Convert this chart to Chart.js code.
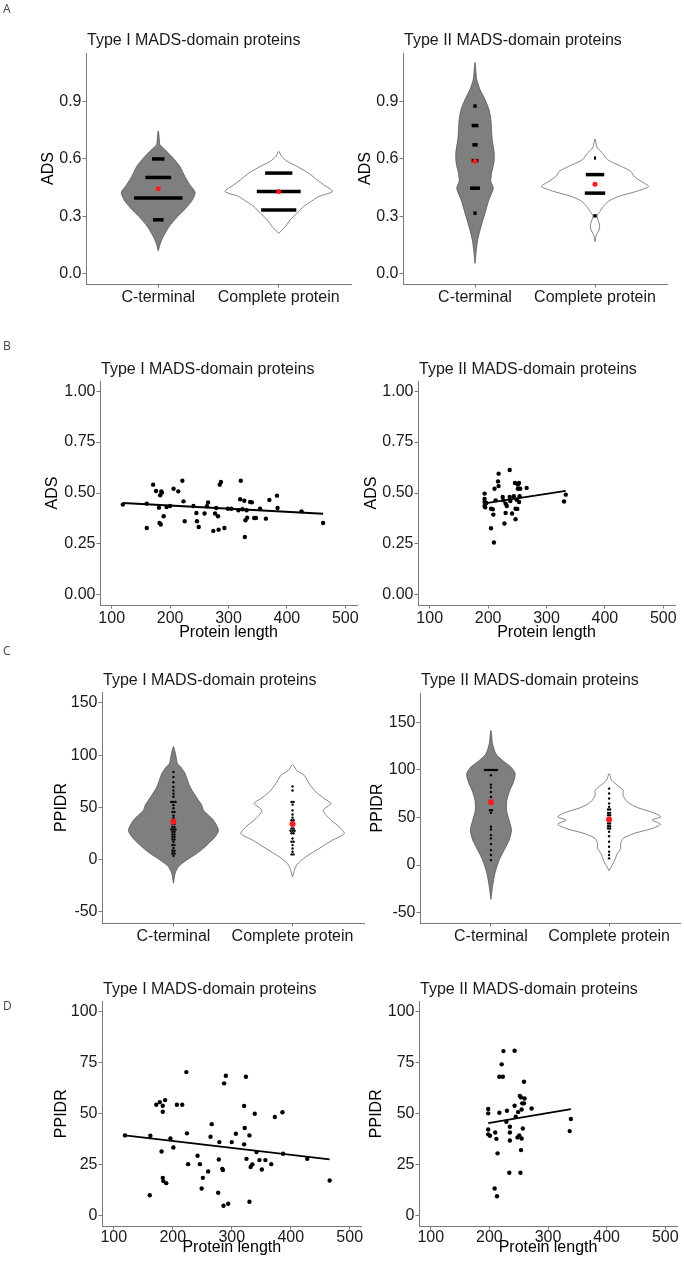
<!DOCTYPE html>
<html>
<head>
<meta charset="utf-8">
<script src="https://cdn.jsdelivr.net/npm/chart.js@4.4.1/dist/chart.umd.min.js"></script>
<style>
  html, body { margin: 0; padding: 0; background: #fff; }
  #page { position: relative; width: 684px; height: 1265px; overflow: hidden; }
  canvas { position: absolute; }
  .title { position: absolute; font-family: 'Liberation Sans', Arial, sans-serif; font-size: 16px; line-height: 20px; color: #1a1a1a; white-space: nowrap; }
  .tag { position: absolute; left: 3px; font-family: 'Open Sans', sans-serif; font-size: 12px; line-height: 14px; color: #444; }
</style>
</head>
<body>
<div id="page"></div>
<script>
// ---- data ----
const categories = ['C-terminal', 'Complete protein'];
const titleTypeI = 'Type I MADS-domain proteins';
const titleTypeII = 'Type II MADS-domain proteins';

const adsTicks = [0, 0.3, 0.6, 0.9];
const adsTickLabels = ['0.0', '0.3', '0.6', '0.9'];
const adsScatterTicks = [0, 0.25, 0.5, 0.75, 1];
const adsScatterTickLabels = ['0.00', '0.25', '0.50', '0.75', '1.00'];
const ppidrViolinTicks = [-50, 0, 50, 100, 150];
const ppidrScatterTicks = [0, 25, 50, 75, 100];
const lengthTicks = [100, 200, 300, 400, 500];

// A: ADS violins (y grid + half width in category units)
const aICtY = [0.119, 0.158, 0.193, 0.246, 0.298, 0.342, 0.386, 0.425, 0.465, 0.509, 0.561, 0.614, 0.649, 0.675, 0.71, 0.746];
const aICtW = [0, 0.017, 0.041, 0.091, 0.160, 0.229, 0.284, 0.306, 0.262, 0.220, 0.179, 0.110, 0.055, 0.014, 0.008, 0];
const aICtBarY = [0.281, 0.395, 0.503, 0.60];
const aICtBarW = [0.044, 0.201, 0.107, 0.052];
const aICtMean = 0.444;
const aIFullY = [0.21, 0.246, 0.281, 0.316, 0.351, 0.386, 0.404, 0.43, 0.465, 0.491, 0.526, 0.561, 0.588, 0.614, 0.64];
const aIFullW = [0, 0.055, 0.096, 0.152, 0.207, 0.289, 0.336, 0.446, 0.372, 0.317, 0.248, 0.152, 0.069, 0.022, 0];
const aIFullBarY = [0.333, 0.43, 0.526];
const aIFullBarW = [0.146, 0.182, 0.113];
const aIFullMean = 0.43;

const aIICtY = [0.053, 0.105, 0.175, 0.246, 0.316, 0.386, 0.447, 0.482, 0.526, 0.579, 0.632, 0.702, 0.746, 0.807, 0.86, 0.912, 0.965, 1.018, 1.105];
const aIICtW = [0, 0.008, 0.022, 0.050, 0.083, 0.116, 0.152, 0.132, 0.138, 0.157, 0.160, 0.143, 0.138, 0.132, 0.116, 0.083, 0.041, 0.014, 0];
const aIICtBarY = [0.316, 0.447, 0.591, 0.674, 0.775, 0.877];
const aIICtBarW = [0.014, 0.041, 0.028, 0.022, 0.028, 0.014];
const aIICtMean = 0.588;
const aIIFullY = [0.167, 0.202, 0.228, 0.254, 0.281, 0.302, 0.325, 0.351, 0.377, 0.403, 0.43, 0.456, 0.482, 0.509, 0.535, 0.561, 0.596, 0.632, 0.658, 0.705];
const aIIFullW = [0, 0.011, 0.033, 0.039, 0.025, 0.017, 0.041, 0.069, 0.110, 0.193, 0.344, 0.446, 0.386, 0.325, 0.298, 0.220, 0.105, 0.061, 0.019, 0];
const aIIFullBarY = [0.302, 0.421, 0.518, 0.605];
const aIIFullBarW = [0.014, 0.085, 0.077, 0.008];
const aIIFullMean = 0.468;

// B: ADS vs protein length
const bTypeIX = [119, 160, 160, 171, 176, 181, 183, 185, 186, 182, 184, 189, 194, 200, 206, 214, 221, 223, 225, 240, 245, 246, 249, 259, 263, 265, 274, 277, 279, 282, 283, 285, 287, 293, 299, 305, 317, 320, 321, 324, 327, 329, 328, 331, 332, 337, 340, 344, 347, 354, 364, 370, 383, 384, 425, 462];
const bTypeIY = [0.443, 0.448, 0.328, 0.541, 0.51, 0.428, 0.489, 0.507, 0.502, 0.353, 0.345, 0.386, 0.431, 0.436, 0.521, 0.508, 0.56, 0.459, 0.361, 0.436, 0.402, 0.361, 0.333, 0.399, 0.435, 0.453, 0.314, 0.399, 0.426, 0.386, 0.32, 0.541, 0.554, 0.328, 0.423, 0.423, 0.415, 0.469, 0.56, 0.42, 0.462, 0.366, 0.284, 0.415, 0.379, 0.456, 0.454, 0.377, 0.377, 0.423, 0.374, 0.466, 0.487, 0.426, 0.41, 0.353];
const bTypeIFitX = [119, 462];
const bTypeIFitY = [0.451, 0.398];
const bTypeIIX = [194, 194, 194, 194, 195, 197, 205, 208, 205, 209, 210, 211, 213, 217, 218, 218, 225, 226, 228, 230, 230, 232, 237, 237, 238, 241, 244, 246, 247, 247, 249, 250, 251, 251, 253, 253, 254, 255, 266, 330, 333];
const bTypeIIY = [0.497, 0.471, 0.456, 0.436, 0.43, 0.451, 0.423, 0.42, 0.327, 0.394, 0.257, 0.521, 0.464, 0.557, 0.534, 0.595, 0.48, 0.464, 0.35, 0.448, 0.402, 0.436, 0.48, 0.613, 0.461, 0.399, 0.484, 0.549, 0.371, 0.423, 0.467, 0.422, 0.541, 0.521, 0.549, 0.456, 0.484, 0.521, 0.525, 0.458, 0.492];
const bTypeIIFitX = [194, 333];
const bTypeIIFitY = [0.449, 0.51];

// C: PPIDR violins
const cICtY = [-22.9, -13.4, -7, -0.6, 5.7, 12.1, 21.7, 28, 37.6, 47.1, 51.9, 56.7, 69.4, 82.2, 88.5, 91.7, 101.3, 108.3];
const cICtW = [0, 0.014, 0.042, 0.112, 0.196, 0.266, 0.350, 0.378, 0.336, 0.252, 0.238, 0.210, 0.140, 0.098, 0.062, 0.034, 0.017, 0];
const cICtDotY = [3.5, 5.7, 8.3, 11, 13.7, 16.6, 19, 21.7, 24, 26.4, 28.7, 31, 34, 37.6, 40, 42, 45.5, 49, 52, 55, 60, 63, 66, 69.4, 74, 79, 83.8];
const cICtDotN = [1, 2, 2, 1, 2, 1, 2, 2, 2, 2, 3, 2, 2, 2, 1, 1, 2, 1, 1, 3, 1, 1, 1, 1, 1, 1, 1];
const cICtMean = 36;
const cIFullY = [-16.6, -5.4, 2.5, 10.5, 18.5, 24.8, 31.2, 39.2, 47.1, 53.5, 58.3, 64.6, 72.6, 80.6, 85.4, 91];
const cIFullW = [0, 0.034, 0.112, 0.224, 0.336, 0.434, 0.392, 0.308, 0.258, 0.322, 0.266, 0.196, 0.140, 0.098, 0.034, 0];
const cIFullDotY = [4.8, 7.3, 10.5, 13.7, 16.9, 20, 25, 27.4, 29.6, 35, 37.6, 40, 43, 47, 52.5, 55, 66, 70];
const cIFullDotN = [2, 1, 1, 1, 2, 1, 2, 3, 2, 2, 2, 1, 1, 1, 1, 2, 1, 1];
const cIFullMean = 34;

const cIICtY = [-36, -22.7, -8.7, 5.2, 15.7, 26.2, 36.7, 47.2, 57.7, 68.2, 78.7, 87.4, 96.2, 103.1, 110.1, 117.1, 127.6, 141.6];
const cIICtW = [0, 0.014, 0.034, 0.070, 0.112, 0.154, 0.174, 0.154, 0.132, 0.135, 0.160, 0.191, 0.205, 0.169, 0.098, 0.042, 0.014, 0];
const cIICtDotY = [5.2, 10.5, 15.7, 22, 28, 31.5, 37.4, 40.2, 54.9, 57.7, 67, 71.7, 76.9, 81.5, 84.6, 94.4, 100];
const cIICtDotN = [1, 1, 1, 1, 1, 1, 1, 1, 1, 2, 1, 1, 1, 1, 1, 1, 7];
const cIICtMean = 66;
const cIIFullY = [-5.9, -1, 5.2, 12.2, 17.5, 22.7, 28, 33.2, 38.5, 43, 47.2, 50.7, 54.9, 60.5, 66.4, 73.4, 78.7, 83.9, 89.2, 96.2];
const cIIFullW = [0, 0.022, 0.048, 0.070, 0.098, 0.098, 0.118, 0.211, 0.365, 0.435, 0.365, 0.435, 0.379, 0.239, 0.154, 0.118, 0.118, 0.070, 0.022, 0];
const cIIFullDotY = [7, 10.5, 14, 19.2, 24.5, 30.4, 35, 38.5, 40.9, 43.7, 48, 52.4, 54.9, 58.4, 61.2, 64.7, 70, 75.2, 80.4];
const cIIFullDotN = [1, 1, 1, 1, 1, 1, 1, 2, 2, 2, 2, 2, 2, 2, 1, 1, 1, 1, 1];
const cIIFullMean = 47.9;

// D: PPIDR vs protein length
const dTypeIX = [119, 161, 162, 172, 178, 181, 183, 183, 187, 183, 184, 189, 196, 201, 207, 216, 223, 224, 226, 242, 246, 249, 251, 260, 266, 264, 277, 278, 279, 284, 285, 286, 287, 290, 294, 300, 307, 321, 322, 321, 324, 325, 330, 330, 332, 335, 339, 342, 347, 357, 351, 367, 373, 387, 386, 428, 466];
const dTypeIY = [39.4, 10.1, 39.2, 54.4, 55.7, 31.5, 53.9, 51, 56.7, 18.6, 17, 16, 37.9, 33.5, 54.4, 54.4, 70.4, 40.4, 25.3, 29.4, 25.3, 13.4, 18.6, 21.7, 44.9, 38.7, 11.3, 27.6, 36.1, 23, 22.4, 4.9, 64.9, 68.6, 5.9, 36.1, 40.2, 35, 43, 53.8, 68.1, 27.9, 39.4, 6.9, 23.9, 25.2, 50, 31.2, 27.3, 27.3, 22.7, 25.3, 48.4, 30.4, 50.7, 27.9, 17.3];
const dTypeIFitX = [119, 466];
const dTypeIFitY = [39.4, 27.6];
const dTypeIIX = [198, 198, 198, 198, 201, 210, 212, 214, 209, 213, 217, 217, 223, 221, 224, 230, 229, 235, 235, 234, 235, 243, 243, 245, 248, 249, 251, 252, 254, 255, 256, 255, 254, 253, 257, 259, 259, 260, 272, 337, 339];
const dTypeIIY = [52.3, 50.2, 42.3, 39.9, 39.2, 40.8, 37.7, 30.6, 13.4, 9.6, 50.5, 68.1, 68.1, 74.2, 80.7, 51.5, 46.1, 43.6, 40.8, 21.1, 36.9, 53.9, 80.9, 48.5, 38.4, 50.8, 39.4, 58.7, 58, 52.1, 55.1, 37.9, 32.2, 21.1, 42.8, 65.7, 55.1, 57.5, 52.6, 41.5, 47.4];
const dTypeIIFitX = [198, 339];
const dTypeIIFitY = [45.4, 52.3];

// ---- styling / helpers ----
Chart.defaults.font.family = "'Liberation Sans', Arial, Helvetica, sans-serif";
Chart.defaults.font.size = 16;
const axisGray = '#7a7a7a';
const violinGray = '#7f7f7f';
const meanRed = '#ff1a1a';
const page = document.getElementById('page');

function violinShape(c, ys, ws, fill, stroke) {
  const pts = ys.map((y, i) => ({ x: c + ws[i], y }));
  for (let i = ys.length - 2; i >= 0; i--) pts.push({ x: c - ws[i], y: ys[i] });
  return { data: pts, showLine: true, fill: 'shape', backgroundColor: fill, borderColor: stroke,
    borderWidth: 0.8, pointRadius: 0, tension: 0.25, order: 3 };
}
function barMarks(c, ys, ws) {
  return ys.map((y, i) => ({ data: [{ x: c - ws[i], y }, { x: c + ws[i], y }], showLine: true,
    borderColor: '#000', borderWidth: 3.5, pointRadius: 0, order: 2 }));
}
function dotMarks(c, ys, ns) {
  const pts = [];
  ys.forEach((y, i) => {
    for (let k = 0; k < ns[i]; k++) pts.push({ x: c + (k - (ns[i] - 1) / 2) * 0.017, y });
  });
  return { data: pts, pointRadius: 1.2, backgroundColor: '#000', borderWidth: 0, order: 2 };
}
function meanMark(c, m, r) {
  return { data: [{ x: c, y: m }], pointRadius: r, backgroundColor: meanRed, borderWidth: 0, order: 1 };
}
function scatterSets(xs, ys, fx, fy) {
  return [
    { data: xs.map((x, i) => ({ x, y: ys[i] })), pointRadius: 2.2, backgroundColor: '#000', borderWidth: 0, order: 2 },
    { data: fx.map((x, i) => ({ x, y: fy[i] })), showLine: true, borderColor: '#000', borderWidth: 1.8, pointRadius: 0, order: 1 }
  ];
}

function axis(spec, size, horizontal) {
  return {
    type: 'linear', min: spec.min, max: spec.max,
    border: { display: true, color: axisGray, width: 1 },
    grid: { display: true, drawOnChartArea: false, drawTicks: true, tickLength: 3.5, color: axisGray, lineWidth: 1 },
    ticks: { color: '#1a1a1a', padding: spec.tickPad !== undefined ? spec.tickPad : (horizontal ? 0 : 1),
      maxRotation: 0, autoSkip: false, callback: (v, i) => spec.labels[i] },
    afterBuildTicks: s => { s.ticks = spec.values.map(v => ({ value: v })); },
    afterFit: s => {
      if (horizontal) { s.height = size; s.paddingLeft = 0; s.paddingRight = 0; }
      else { s.width = size; s.paddingTop = 0; s.paddingBottom = 0; }
    },
    title: spec.title
      ? { display: true, text: spec.title, color: '#000',
          padding: horizontal ? { top: 0, bottom: spec.pad } : { top: spec.pad, bottom: 0 } }
      : { display: false }
  };
}

function panel(box, area, xSpec, ySpec, datasets, title, tag) {
  const cv = document.createElement('canvas');
  cv.width = box.w; cv.height = box.h;
  cv.style.left = box.x + 'px'; cv.style.top = box.y + 'px';
  cv.style.width = box.w + 'px'; cv.style.height = box.h + 'px';
  page.appendChild(cv);
  new Chart(cv, {
    type: 'scatter',
    data: { datasets },
    options: {
      responsive: false, animation: false, events: [],
      layout: { padding: { left: 0, top: area.t - box.y, right: box.x + box.w - area.r, bottom: 0 } },
      plugins: { legend: { display: false }, tooltip: { enabled: false } },
      scales: {
        x: axis(xSpec, box.y + box.h - area.b, true),
        y: axis(ySpec, area.l - box.x, false)
      }
    }
  });
  const t = document.createElement('div');
  t.className = 'title'; t.textContent = title;
  t.style.left = (area.l + 1) + 'px';
  t.style.top = area.titleTop + 'px';
  page.appendChild(t);
  if (tag) {
    const g = document.createElement('div');
    g.className = 'tag'; g.textContent = tag.text; g.style.top = tag.top + 'px';
    page.appendChild(g);
  }
}

const catX = { min: 0.4, max: 2.6, values: [1, 2], labels: categories };
const lenX = (pad, tickPad) => ({ min: 80, max: 520, values: lengthTicks, labels: lengthTicks.map(String),
  title: 'Protein length', pad, tickPad });

// A
panel({ x: 0, y: 0, w: 360, h: 310 }, { l: 86, r: 351, t: 53, b: 284, titleTop: 30 }, catX,
  { min: -0.055, max: 1.155, values: adsTicks, labels: adsTickLabels, title: 'ADS', pad: 39.4 },
  [violinShape(1, aICtY, aICtW, violinGray, '#555'), ...barMarks(1, aICtBarY, aICtBarW), meanMark(1, aICtMean, 2.5),
   violinShape(2, aIFullY, aIFullW, '#fff', '#666'), ...barMarks(2, aIFullBarY, aIFullBarW), meanMark(2, aIFullMean, 2.5)],
  titleTypeI, { text: 'A', top: 2 });
panel({ x: 342, y: 0, w: 342, h: 310 }, { l: 403, r: 667, t: 53, b: 284, titleTop: 30 }, catX,
  { min: -0.055, max: 1.155, values: adsTicks, labels: adsTickLabels, title: 'ADS', pad: 14.4 },
  [violinShape(1, aIICtY, aIICtW, violinGray, '#555'), ...barMarks(1, aIICtBarY, aIICtBarW), meanMark(1, aIICtMean, 2.5),
   violinShape(2, aIIFullY, aIIFullW, '#fff', '#666'), ...barMarks(2, aIIFullBarY, aIIFullBarW), meanMark(2, aIIFullMean, 2.5)],
  titleTypeII, null);

// B
panel({ x: 0, y: 320, w: 366, h: 324 }, { l: 100, r: 357, t: 381, b: 605, titleTop: 359 }, lenX(1.9, 0),
  { min: -0.05, max: 1.05, values: adsScatterTicks, labels: adsScatterTickLabels, title: 'ADS', pad: 43.4 },
  scatterSets(bTypeIX, bTypeIY, bTypeIFitX, bTypeIFitY), titleTypeI, { text: 'B', top: 339 });
panel({ x: 342, y: 320, w: 342, h: 324 }, { l: 418, r: 675, t: 381, b: 605, titleTop: 359 }, lenX(1.9, 0),
  { min: -0.05, max: 1.05, values: adsScatterTicks, labels: adsScatterTickLabels, title: 'ADS', pad: 20.4 },
  scatterSets(bTypeIIX, bTypeIIY, bTypeIIFitX, bTypeIIFitY), titleTypeII, null);

// C
panel({ x: 0, y: 640, w: 370, h: 310 }, { l: 102, r: 364, t: 692, b: 923, titleTop: 670 }, catX,
  { min: -61, max: 160.5, values: ppidrViolinTicks, labels: ppidrViolinTicks.map(String), title: 'PPIDR', pad: 51.9 },
  [violinShape(1, cICtY, cICtW, violinGray, '#555'), dotMarks(1, cICtDotY, cICtDotN), meanMark(1, cICtMean, 3),
   violinShape(2, cIFullY, cIFullW, '#fff', '#666'), dotMarks(2, cIFullDotY, cIFullDotN), meanMark(2, cIFullMean, 3)],
  titleTypeI, { text: 'C', top: 644 });
panel({ x: 342, y: 640, w: 342, h: 310 }, { l: 420, r: 681, t: 693, b: 923, titleTop: 670 }, catX,
  { min: -61, max: 181, values: ppidrViolinTicks, labels: ppidrViolinTicks.map(String), title: 'PPIDR', pad: 25.9 },
  [violinShape(1, cIICtY, cIICtW, violinGray, '#555'), dotMarks(1, cIICtDotY, cIICtDotN), meanMark(1, cIICtMean, 3),
   violinShape(2, cIIFullY, cIIFullW, '#fff', '#666'), dotMarks(2, cIIFullDotY, cIIFullDotN), meanMark(2, cIIFullMean, 3)],
  titleTypeII, null);

// D
panel({ x: 0, y: 950, w: 366, h: 315 }, { l: 102, r: 361.5, t: 1001.5, b: 1226, titleTop: 979 }, lenX(7.6, -2),
  { min: -5, max: 105, values: ppidrScatterTicks, labels: ppidrScatterTicks.map(String), title: 'PPIDR', pad: 51.9 },
  scatterSets(dTypeIX, dTypeIY, dTypeIFitX, dTypeIFitY), titleTypeI, { text: 'D', top: 999 });
panel({ x: 342, y: 950, w: 342, h: 315 }, { l: 419, r: 677, t: 1001.5, b: 1226, titleTop: 979 }, lenX(7.6, -2),
  { min: -5, max: 105, values: ppidrScatterTicks, labels: ppidrScatterTicks.map(String), title: 'PPIDR', pad: 25.4 },
  scatterSets(dTypeIIX, dTypeIIY, dTypeIIFitX, dTypeIIFitY), titleTypeII, null);
</script>
</body>
</html>
